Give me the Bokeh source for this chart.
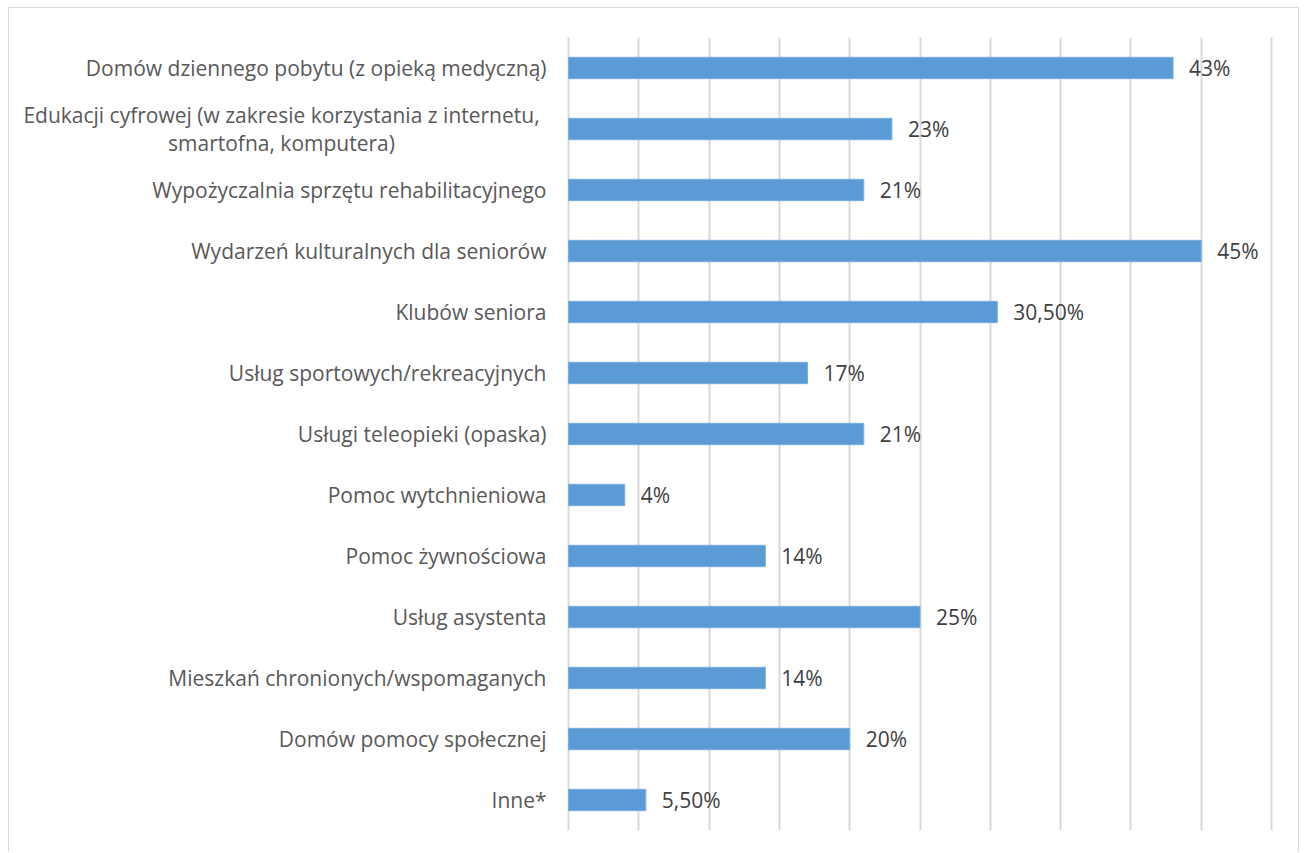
from bokeh.plotting import figure
from bokeh.models import ColumnDataSource, FactorRange, Range1d, FixedTicker
from bokeh.core.properties import value
from bokeh.embed import file_html
from bokeh.resources import INLINE

categories = [
    "Domów dziennego pobytu (z opieką medyczną)",
    "Edukacji cyfrowej (w zakresie korzystania z internetu,\nsmartofna, komputera)",
    "Wypożyczalnia sprzętu rehabilitacyjnego",
    "Wydarzeń kulturalnych dla seniorów",
    "Klubów seniora",
    "Usług sportowych/rekreacyjnych",
    "Usługi teleopieki (opaska)",
    "Pomoc wytchnieniowa",
    "Pomoc żywnościowa",
    "Usług asystenta",
    "Mieszkań chronionych/wspomaganych",
    "Domów pomocy społecznej",
    "Inne*",
]
values = [43, 23, 21, 45, 30.5, 17, 21, 4, 14, 25, 14, 20, 5.5]
grid_ticks = [0, 5, 10, 15, 20, 25, 30, 35, 40, 45, 50]

def fmt(v):
    if float(v).is_integer():
        return "%d%%" % v
    return ("%.2f%%" % v).replace(".", ",")

labels = [fmt(v) for v in values]

# label styling: single-line labels right-aligned next to the axis,
# the wrapped one centred on its lines (as Excel does)
cat_align = ["center" if "\n" in c else "right" for c in categories]
cat_off = [-287 if "\n" in c else -22 for c in categories]

src = ColumnDataSource(dict(cat=categories, val=values, lab=labels,
                            zero=[0] * len(values), al=cat_align, off=cat_off))

FONT = "Open Sans"
CAT_SIZE = "21px"

PX_PER_UNIT = 703 / 50.0
FRAME_W = 1291 - 27
x_end = 50 + 2 / PX_PER_UNIT
x_start = x_end - FRAME_W / PX_PER_UNIT

p = figure(
    width=1291, height=845,
    y_range=FactorRange(factors=list(reversed(categories))),
    x_range=Range1d(x_start, x_end),
    output_backend="svg", toolbar_location=None,
    min_border_left=0, min_border_right=27, min_border_top=29, min_border_bottom=23,
)
p.styles = {"margin-left": "8px", "margin-top": "7px",
            "border-top": "1px solid #d9d9d9", "border-left": "1px solid #d9d9d9",
            "border-right": "1px solid #d9d9d9"}
p.outline_line_color = None
p.background_fill_color = "white"
p.border_fill_color = "white"

p.hbar(y="cat", right="val", left=0, height=0.35, source=src,
       fill_color="#5b9bd5", line_color="#7aaee0", line_width=1)

p.text(x="val", y="cat", text="lab", source=src, x_offset=16,
       text_baseline="middle", text_align="left",
       text_font=value(FONT), text_font_size="21px", text_color="#404040")

p.text(x="zero", y="cat", text="cat", source=src, x_offset="off",
       text_baseline="middle", text_align="al", text_line_height=1.0,
       text_font=value(FONT), text_font_size=CAT_SIZE, text_color="#595959")

p.xaxis.visible = False
p.yaxis.visible = False
p.xgrid.ticker = FixedTicker(ticks=grid_ticks)
p.xgrid.grid_line_color = "#d9d9d9"
p.xgrid.grid_line_width = 2
p.ygrid.grid_line_color = None

open("out.html", "w").write(file_html(p, INLINE))
